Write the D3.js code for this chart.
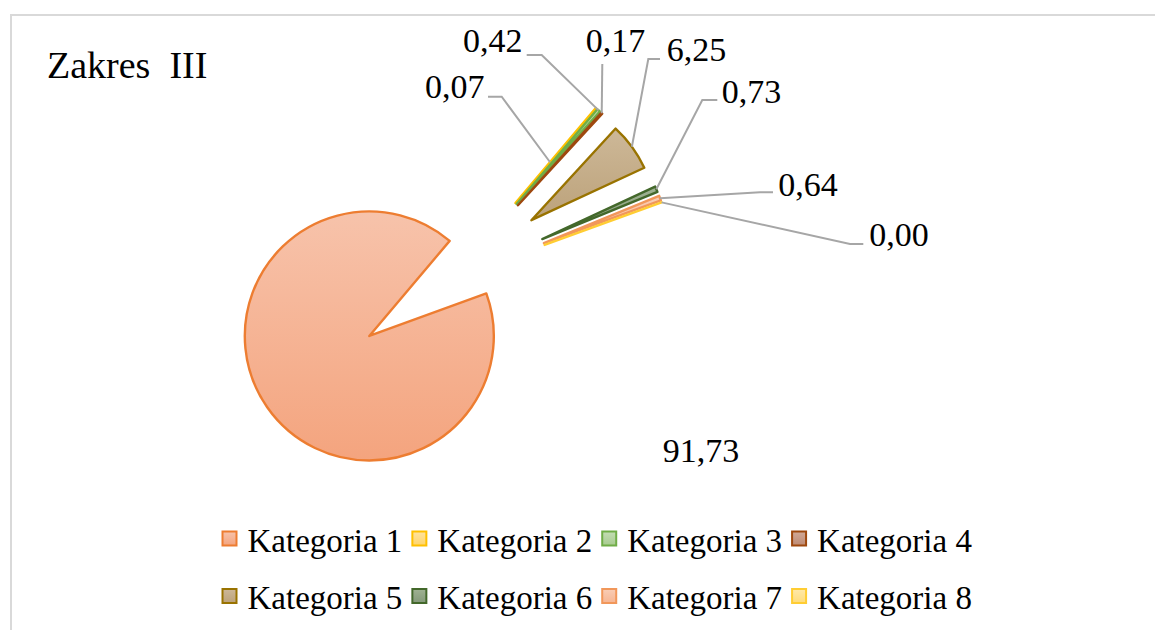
<!DOCTYPE html>
<html>
<head>
<meta charset="utf-8">
<script src="https://cdn.jsdelivr.net/npm/d3@7"></script>
</head>
<body style="margin:0;padding:0;background:#fff">
<svg id="chart" width="1155" height="630" style="display:block"></svg>
<script>
// ---------------- data ----------------
const title = "Zakres  III";
const categories = ["Kategoria 1", "Kategoria 2", "Kategoria 3", "Kategoria 4",
                    "Kategoria 5", "Kategoria 6", "Kategoria 7", "Kategoria 8"];
const values = [91.73, 0.07, 0.42, 0.17, 6.25, 0.73, 0.64, 0.00];
const valueLabels = ["91,73", "0,07", "0,42", "0,17", "6,25", "0,73", "0,64", "0,00"];

// ---------------- styles ----------------
const strokeColors = ["#ED7D31", "#FFC000", "#70AD47", "#9E480E", "#997300", "#43682B", "#F1975A", "#FFCD33"];
const fillTop      = ["#F7C3AB", "#FFE3A0", "#C4DDB4", "#D1A997", "#CDB898", "#9FB292", "#F9CDB5", "#FFE9AA"];
const fillBottom   = ["#F4A47E", "#FFD56A", "#A7CB8F", "#BE8A73", "#BCA27A", "#84997A", "#F6B592", "#FFDC7A"];

// ---------------- layout ----------------
const W = 1155, H = 630;
const cx = 451, cy = 279;
const radius = 124.5;
const explode = 0.8 * radius;
const firstSliceAngle = 70;
const fontLabel = 34, fontLegend = 33, fontTitle = 38;
const FONT = "Liberation Serif";

const labelLayout = [
  { tx: 662.7, ty: 461.5, leader: null },
  { tx: 425,   ty: 98,  lx: 488, ly: 96.7, ex: 501.7, ey: 96.7, rf: 0.43 },
  { tx: 463,   ty: 52,  lx: 526.7, ly: 55, ex: 541.7, ey: 55, rf: 1.0 },
  { tx: 585.7, ty: 52,  lx: 602.3, ly: 64, ex: 602.3, ey: 64, rf: 1.0 },
  { tx: 666.7, ty: 60.5, lx: 660, ly: 59, ex: 648.3, ey: 59, rf: 1.0 },
  { tx: 721.7, ty: 103.3, lx: 717.3, ly: 100, ex: 702.3, ey: 100, rf: 1.0 },
  { tx: 778.3, ty: 196, lx: 773, ly: 192.3, ex: 760, ey: 192.3, rf: 1.0 },
  { tx: 869.3, ty: 246, lx: 863.3, ly: 244, ex: 850, ey: 244, rf: 1.0 }
];

const svg = d3.select("#chart");
const defs = svg.append("defs");

categories.forEach((c, i) => {
  const g = defs.append("linearGradient")
    .attr("id", "grad" + i)
    .attr("x1", 0).attr("y1", 0).attr("x2", 0).attr("y2", 1);
  g.append("stop").attr("offset", "0%").attr("stop-color", fillTop[i]);
  g.append("stop").attr("offset", "100%").attr("stop-color", fillBottom[i]);
});

svg.append("rect")
  .attr("x", 11).attr("y", 15)
  .attr("width", W + 20).attr("height", H + 20)
  .attr("fill", "none")
  .attr("stroke", "#D9D9D9")
  .attr("stroke-width", 2);

function addText(sel, x, y, size, str) {
  return sel.append("text")
    .attr("x", x).attr("y", y)
    .attr("font-family", FONT)
    .attr("font-size", size)
    .attr("fill", "#000")
    .text(str);
}

addText(svg, 47, 78, fontTitle, title).attr("xml:space", "preserve");

const pie = d3.pie().sort(null).value(d => d)
  .startAngle(firstSliceAngle * Math.PI / 180)
  .endAngle(firstSliceAngle * Math.PI / 180 + 2 * Math.PI);
const arcs = pie(values);
const arc = d3.arc().innerRadius(0).outerRadius(radius);

function offsetFor(d) {
  const mid = (d.startAngle + d.endAngle) / 2;
  return [explode * Math.sin(mid), -explode * Math.cos(mid)];
}

const g = svg.append("g").attr("transform", `translate(${cx},${cy})`);

g.selectAll("path.slice")
  .data(arcs)
  .join("path")
  .attr("class", "slice")
  .attr("transform", d => { const o = offsetFor(d); return `translate(${o[0]},${o[1]})`; })
  .attr("d", arc)
  .attr("fill", (d, i) => `url(#grad${i})`)
  .attr("stroke", (d, i) => strokeColors[i])
  .attr("stroke-width", 2.4)
  .attr("stroke-linejoin", "round");

arcs.forEach((d, i) => {
  const L = labelLayout[i];
  if (!L || L.leader === null) return;
  const mid = (d.startAngle + d.endAngle) / 2;
  const dist = explode + radius * L.rf;
  const px = cx + dist * Math.sin(mid);
  const py = cy - dist * Math.cos(mid);
  svg.append("path")
    .attr("d", d3.line()([[L.lx, L.ly], [L.ex, L.ey], [px, py]]))
    .attr("fill", "none")
    .attr("stroke", "#A6A6A6")
    .attr("stroke-width", 2);
});

valueLabels.forEach((lab, i) => addText(svg, labelLayout[i].tx, labelLayout[i].ty, fontLabel, lab));

const legendRows = [categories.slice(0, 4), categories.slice(4, 8)];
const legendX0 = 222.5, legendRowY = [531.5, 589], markerSize = 14, markerGap = 11, itemGap = 10;
legendRows.forEach((row, r) => {
  let x = legendX0;
  row.forEach((name, k) => {
    const i = r * 4 + k;
    svg.append("rect")
      .attr("x", x).attr("y", legendRowY[r])
      .attr("width", markerSize).attr("height", markerSize)
      .attr("fill", `url(#grad${i})`)
      .attr("stroke", strokeColors[i])
      .attr("stroke-width", 2);
    const t = addText(svg, x + markerSize + markerGap, legendRowY[r] + 20, fontLegend, name);
    const w = t.node().getComputedTextLength();
    x += markerSize + markerGap + w + itemGap;
  });
});
</script>
</body>
</html>
